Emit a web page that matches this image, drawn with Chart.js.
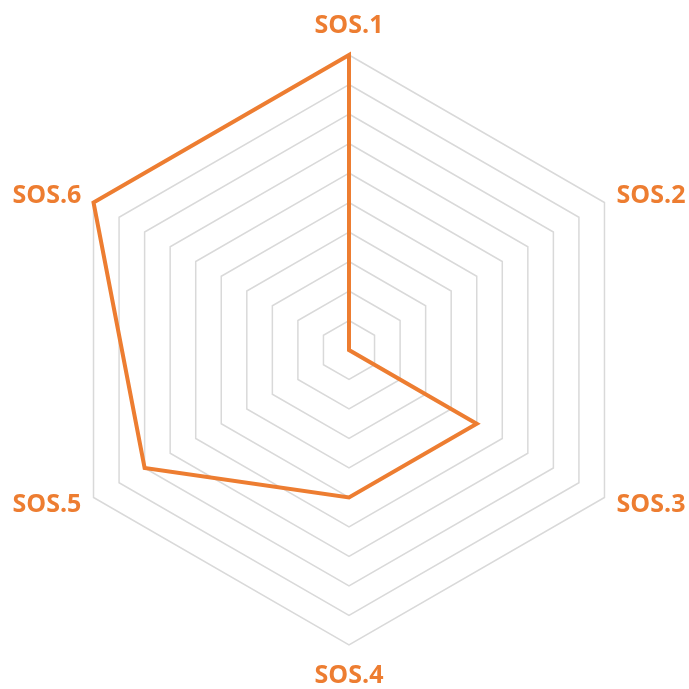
<!DOCTYPE html>
<html>
<head>
<meta charset="utf-8">
<script src="https://cdn.jsdelivr.net/npm/chart.js@4"></script>
<style>
  html, body { margin: 0; padding: 0; background: #fff; }
  #wrap { width: 689px; height: 689px; }
</style>
</head>
<body>
<div id="wrap"><canvas id="radar"></canvas></div>
<script>
const labels = ['SOS.1', 'SOS.2', 'SOS.3', 'SOS.4', 'SOS.5', 'SOS.6'];
const scores = [10, 0, 5, 5, 8, 10];
const scaleMin = 0;
const scaleMax = 10;
const scaleStep = 1;

const orange = '#ED7D31';
const labelFont = 'bold 25px "Open Sans", sans-serif';

// point labels drawn by hand so they can sit where Excel puts them
const outerLabels = {
    id: 'outerLabels',
    afterDraw(chart) {
        const scale = chart.scales.r;
        const c = chart.ctx;
        c.save();
        c.font = labelFont;
        c.fillStyle = orange;
        c.textBaseline = 'middle';
        labels.forEach((text, i) => {
            const pos = scale.getPointPosition(i, scale.drawingArea + 14);
            const dx = pos.x - scale.xCenter;
            const dy = pos.y - scale.yCenter;
            let y = pos.y;
            if (Math.abs(dx) < 1) {
                c.textAlign = 'center';
                y += dy < 0 ? -15 : 17;
            } else {
                c.textAlign = dx > 0 ? 'left' : 'right';
            }
            c.fillText(text, pos.x, y);
        });
        c.restore();
    }
};

const ctx = document.getElementById('radar').getContext('2d');
new Chart(ctx, {
    type: 'radar',
    data: {
        labels: labels,
        datasets: [{
            data: scores,
            borderColor: orange,
            borderWidth: 4,
            borderJoinStyle: 'miter',
            fill: false,
            pointRadius: 0,
            tension: 0
        }]
    },
    options: {
        responsive: true,
        maintainAspectRatio: false,
        animation: false,
        layout: { padding: { top: 55, bottom: 44, left: 54, right: 45 } },
        plugins: { legend: { display: false }, tooltip: { enabled: false } },
        scales: {
            r: {
                min: scaleMin,
                max: scaleMax,
                ticks: { stepSize: scaleStep, display: false },
                grid: { color: '#d9d9d9', lineWidth: 1.5 },
                angleLines: { display: false },
                pointLabels: { display: false }
            }
        }
    },
    plugins: [outerLabels]
});
</script>
</body>
</html>
